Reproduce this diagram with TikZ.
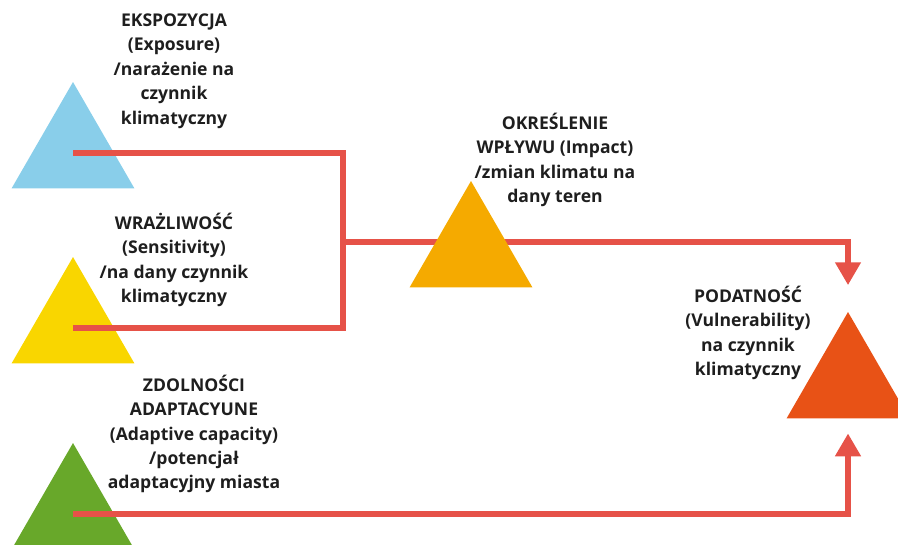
\documentclass[tikz,border=0pt]{standalone}
\usepackage{fontspec}
\setmainfont{Open Sans}
\usetikzlibrary{positioning, arrows.meta, shapes.geometric, backgrounds}
\definecolor{expblue}{RGB}{137,206,234}
\definecolor{senyellow}{RGB}{249,214,0}
\definecolor{adagreen}{RGB}{104,168,42}
\definecolor{impamber}{RGB}{245,170,0}
\definecolor{vulred}{RGB}{232,82,22}
\definecolor{linkred}{RGB}{230,82,72}
\definecolor{txt}{RGB}{30,30,30}

\begin{document}
\begin{tikzpicture}[x=0.02cm, y=-0.02cm, >={Triangle[width=14pt, length=13pt]},
    tri/.style={regular polygon, regular polygon sides=3, minimum size=2.84cm, inner sep=0pt, outer sep=0pt},
    lbl/.style={align=center, text=txt, font=\bfseries\fontsize{10}{13.9}\selectfont},
    link/.style={draw=linkred, line width=3.2pt}]
        \clip (0,0) rectangle (898,544);

        \node (exp) [tri, fill=expblue] at (73,153) {};
        \node (sen) [tri, fill=senyellow] at (73,328) {};
        \node (ada) [tri, fill=adagreen] at (73,514) {};
        \node (imp) [tri, fill=impamber] at (471,252) {};
        \node (vul) [tri, fill=vulred] at (848,383) {};
        \coordinate (jn) at (343,242);

        \node (exptxt) [lbl] at (174,71) {EKSPOZYCJA\\(Exposure)\\/narażenie na\\czynnik\\klimatyczny};
        \node (sentxt) [lbl] at (174,260) {WRAŻLIWOŚĆ\\(Sensitivity)\\/na dany czynnik\\klimatyczny};
        \node (adatxt) [lbl] at (194,434) {ZDOLNOŚCI\\ADAPTACYUNE\\(Adaptive capacity)\\/potencjał\\adaptacyjny miasta};
        \node (imptxt) [lbl] at (555,160) {OKREŚLENIE\\WPŁYWU (Impact)\\/zmian klimatu na\\dany teren};
        \node (vultxt) [lbl] at (748,333) {PODATNOŚĆ\\(Vulnerability)\\na czynnik\\klimatyczny};

        \draw[link] (exp.center) -| (jn) |- (sen.center);
        \draw[link, ->, shorten >=8.5pt] (ada.center) -| (vul.south);
        \begin{scope}[on background layer]
            \draw[link, ->, shorten >=15.3pt] (jn) -| (vul.north);
        \end{scope}
    \end{tikzpicture}
\end{document}
